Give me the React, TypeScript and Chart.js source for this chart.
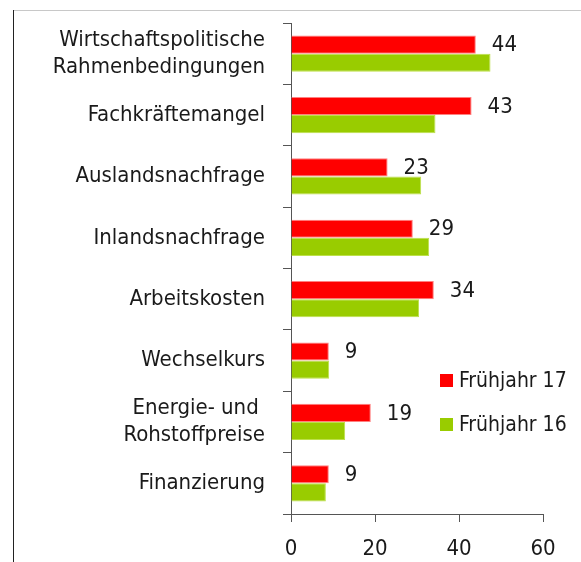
import React, { useEffect, useRef } from "react";
import { Chart, registerables } from "chart.js";

Chart.register(...registerables);

const categories: (string | string[])[] = [
  ["Wirtschaftspolitische", "Rahmenbedingungen"],
  "Fachkräftemangel",
  "Auslandsnachfrage",
  "Inlandsnachfrage",
  "Arbeitskosten",
  "Wechselkurs",
  ["Energie- und ", "Rohstoffpreise"],
  "Finanzierung",
];
const spring17 = [44, 43, 23, 29, 34, 9, 19, 9];
const spring16 = [47.5, 34.4, 31, 32.9, 30.5, 9.1, 12.9, 8.3];
const seriesNames = ["Frühjahr 17", "Frühjahr 16"];
const xTicks = [0, 20, 40, 60];

const FONT = "'DejaVu Sans Condensed', 'DejaVu Sans', sans-serif";
const RED = "#ff0000";
const GREEN = "#99cc00";

export default function App() {
  const ref = useRef<HTMLCanvasElement | null>(null);
  useEffect(() => {
    document.body.style.margin = "0";
    const canvas = ref.current!;
    const framePlugin = {
      id: "frame",
      beforeDraw(chart: any) {
        const ctx = chart.ctx;
        ctx.save();
        ctx.fillStyle = "#ffffff";
        ctx.fillRect(0, 0, chart.width, chart.height);
        ctx.strokeStyle = "#c8c8c8";
        ctx.lineWidth = 1;
        ctx.beginPath();
        ctx.moveTo(13, 10.5);
        ctx.lineTo(chart.width, 10.5);
        ctx.stroke();
        ctx.strokeStyle = "#222222";
        ctx.beginPath();
        ctx.moveTo(13.5, 10);
        ctx.lineTo(13.5, chart.height);
        ctx.stroke();
        ctx.restore();
      },
    };
    const labelPlugin = {
      id: "valueLabels",
      afterDatasetsDraw(chart: any) {
        const ctx = chart.ctx;
        const meta = chart.getDatasetMeta(0);
        ctx.save();
        ctx.font = `22px ${FONT}`;
        ctx.fillStyle = "#1a1a1a";
        ctx.textAlign = "left";
        ctx.textBaseline = "middle";
        meta.data.forEach((el: any, i: number) => {
          ctx.fillText(String(spring17[i]), el.x + 16, el.y + 1);
        });
        // legend
        const colors = [RED, GREEN];
        const ys = [380.5, 424.5];
        ctx.font = `21px ${FONT}`;
        seriesNames.forEach((n, i) => {
          ctx.fillStyle = colors[i];
          ctx.fillRect(440, ys[i] - 6.5, 13, 13);
          ctx.fillStyle = "#1a1a1a";
          ctx.fillText(n, 459, ys[i] + 1);
        });
        ctx.restore();
      },
    };
    const chart = new Chart(canvas, {
      type: "bar",
      data: {
        labels: categories,
        datasets: [
          {
            label: seriesNames[0],
            data: spring17,
            backgroundColor: RED,
            borderColor: "#ff8080",
            borderWidth: 1,
            barPercentage: 1,
            categoryPercentage: 0.59,
          },
          {
            label: seriesNames[1],
            data: spring16,
            backgroundColor: GREEN,
            borderColor: "#bde04a",
            borderWidth: 1,
            barPercentage: 1,
            categoryPercentage: 0.59,
          },
        ],
      },
      options: {
        indexAxis: "y",
        responsive: false,
        animation: false,
        devicePixelRatio: 1,
        layout: { padding: { left: 0, right: 38, top: 23, bottom: 0 } },
        plugins: { legend: { display: false }, tooltip: { enabled: false } },
        scales: {
          y: {
            afterFit(scale: any) {
              scale.width = 291;
              scale.paddingTop = 0;
              scale.paddingBottom = 0;
            },
            grid: {
              offset: true,
              drawOnChartArea: false,
              tickLength: 8,
              color: "#555555",
            },
            border: { color: "#555555", width: 1 },
            ticks: {
              padding: 18,
              color: "#1a1a1a",
              font: { family: FONT, size: 22, lineHeight: 1.25 },
            },
          },
          x: {
            min: 0,
            max: 60,
            afterFit(scale: any) {
              scale.height = 48;
              scale.paddingLeft = 0;
              scale.paddingRight = 0;
            },
            afterBuildTicks(scale: any) {
              scale.ticks = xTicks.map((v) => ({ value: v }));
            },
            grid: {
              drawOnChartArea: false,
              tickLength: 8,
              color: "#555555",
            },
            border: { color: "#555555", width: 1 },
            ticks: {
              padding: 14,
              color: "#1a1a1a",
              font: { family: FONT, size: 22 },
            },
          },
        },
      },
      plugins: [framePlugin, labelPlugin],
    } as any);
    return () => chart.destroy();
  }, []);
  return (
    <div style={{ width: 581, height: 562 }}>
      <canvas ref={ref} width={581} height={562} style={{ display: "block" }} />
    </div>
  );
}
